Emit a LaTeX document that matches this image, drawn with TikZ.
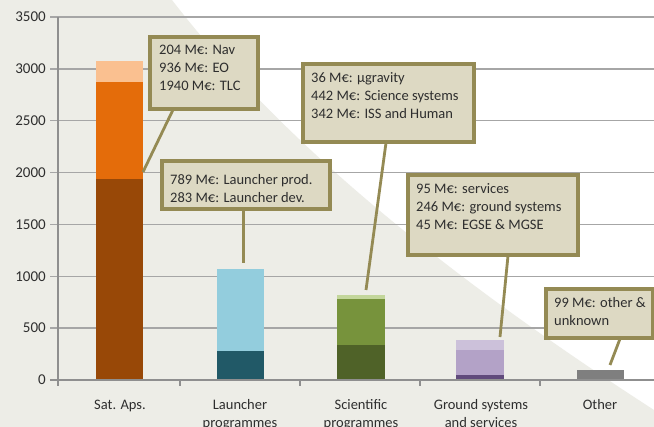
\documentclass[tikz,border=0pt]{standalone}
\usepackage{fontspec}
\setmainfont{Carlito}
\usetikzlibrary{calc}

% palette
\definecolor{bggray}{HTML}{EDEDE7}
\definecolor{gridc}{HTML}{A6A6A6}
\definecolor{axisc}{HTML}{8F8F8F}
\definecolor{txt}{HTML}{2E2E2E}
\definecolor{calloutfill}{HTML}{DDD9C3}
\definecolor{calloutline}{HTML}{948A54}
% satellite applications
\definecolor{tlc}{HTML}{984807}
\definecolor{eo}{HTML}{E46C0A}
\definecolor{nav}{HTML}{FAC090}
% launchers
\definecolor{ldev}{HTML}{215967}
\definecolor{lprod}{HTML}{93CDDD}
% science
\definecolor{iss}{HTML}{4F6228}
\definecolor{scisys}{HTML}{77933C}
\definecolor{ugrav}{HTML}{C3D69B}
% ground
\definecolor{egse}{HTML}{604A7B}
\definecolor{gsys}{HTML}{B3A2C7}
\definecolor{gserv}{HTML}{CCC1DA}
% other
\definecolor{otherc}{HTML}{7F7F7F}

\begin{document}
\begin{tikzpicture}[x=1pt, y=-1pt,
  grid/.style={draw=gridc, line width=1.3pt},
  axisline/.style={draw=axisc, line width=1.3pt},
  ticklabel/.style={anchor=east, inner sep=0pt, text=txt, font=\fontsize{15}{18}\selectfont},
  catlabel/.style={anchor=north, inner sep=0pt, align=center, text=txt, font=\fontsize{14.5}{18}\selectfont},
  calloutbox/.style={draw=calloutline, fill=calloutfill, line width=2.8pt, anchor=north west, inner sep=0pt},
  callouttext/.style={anchor=north west, inner sep=0pt, align=left, text=txt, font=\fontsize{14.5}{18}\selectfont},
  leader/.style={draw=calloutline, line width=2.8pt}
]
\useasboundingbox (0,0) rectangle (654,427);
\clip (0,0) rectangle (654,427);

% backdrop: white corner above a curved grey field
\fill[white] (0,0) rectangle (654,427);
\fill[bggray] (0,0) -- (172,0) .. controls (302,169) and (504,313) .. (654,410)
  -- (654,427) -- (0,427) -- cycle;

% value axis scope: origin on the zero line, one unit = one million euro
\begin{scope}[yshift=-380pt, y=0.103714pt]
  \foreach \v in {500,1000,...,3500}
    \draw[grid] (50,\v) -- (654,\v);
  \foreach \v in {0,500,1000,...,3500}
    \node[ticklabel] (tick\v) at (46,\v) {\v};

  % stacked bars
  \fill[tlc]   (96,0)    rectangle (143,1940);
  \fill[eo]    (96,1940) rectangle (143,2876);
  \fill[nav]   (96,2876) rectangle (143,3080);

  \fill[ldev]  (217,0)   rectangle (264,283);
  \fill[lprod] (217,283) rectangle (264,1072);

  \fill[iss]    (337,0)   rectangle (385,342);
  \fill[scisys] (337,342) rectangle (385,784);
  \fill[ugrav]  (337,784) rectangle (385,820);

  \fill[egse]  (456,0)   rectangle (504,45);
  \fill[gsys]  (456,45)  rectangle (504,291);
  \fill[gserv] (456,291) rectangle (504,386);

  \fill[otherc] (577,0) rectangle (624,99);

  % axes
  \draw[axisline] (58,0) -- (58,3500);
  \draw[axisline] (50,0) -- (654,0);
  \foreach \x in {58,180,300,420,540}
    \draw[axisline] (\x,0) -- (\x,-55);
\end{scope}

% category labels
\node[catlabel] (catsat)   at (120,399.5) {Sat. Aps.};
\node[catlabel] (catlaun)  at (240,399.5) {Launcher\\programmes};
\node[catlabel] (catsci)   at (361,399.5) {Scientific\\programmes};
\node[catlabel] (catgnd)   at (481,399.5) {Ground systems\\and services};
\node[catlabel] (catother) at (600,399.5) {Other};

% leader end points on the bars
\coordinate (satend)   at (143,172);
\coordinate (launend)  at (243.6,263);
\coordinate (sciend)   at (366,290);
\coordinate (gndend)   at (500,337);
\coordinate (otherend) at (610,365);

% callout boxes
\node[calloutbox, minimum width=107pt, minimum height=71pt] (boxsat)   at (149,36)  {};
\node[calloutbox, minimum width=167pt, minimum height=47pt] (boxlaun)  at (161,160) {};
\node[calloutbox, minimum width=170pt, minimum height=77pt] (boxsci)   at (302,63)  {};
\node[calloutbox, minimum width=169pt, minimum height=79pt] (boxgnd)   at (407,174) {};
\node[calloutbox, minimum width=106pt, minimum height=48pt] (boxother) at (545,288) {};

% leaders
\draw[leader] ($(boxsat.south west)+(24,0)$)     -- (satend);
\draw[leader] ($(boxlaun.south west)+(82.6,0)$)  -- (launend);
\draw[leader] ($(boxsci.south west)+(84,0)$)     -- (sciend);
\draw[leader] ($(boxgnd.south west)+(101,0)$)    -- (gndend);
\draw[leader] ($(boxother.south west)+(75,0)$)   -- (otherend);

% box borders drawn again over the leader ends
\foreach \b in {boxsat,boxlaun,boxsci,boxgnd,boxother}
  \draw[draw=calloutline, line width=2.8pt] (\b.south west) rectangle (\b.north east);

% callout texts
\node[callouttext] (txtsat) at (159,45.3)
  {204 M€: Nav\\936 M€: EO\\1940 M€: TLC};
\node[callouttext] (txtlaun) at (170,174.7)
  {789 M€: Launcher prod.\\283 M€: Launcher dev.};
\node[callouttext] (txtsci) at (311,72.7)
  {36 M€: µgravity\\442 M€: Science systems\\342 M€: ISS and Human};
\node[callouttext] (txtgnd) at (416,183.3)
  {95 M€: services\\246 M€: ground systems\\45 M€: EGSE \& MGSE};
\node[callouttext] (txtother) at (554,297)
  {99 M€: other \&\\unknown};
\end{tikzpicture}
\end{document}
